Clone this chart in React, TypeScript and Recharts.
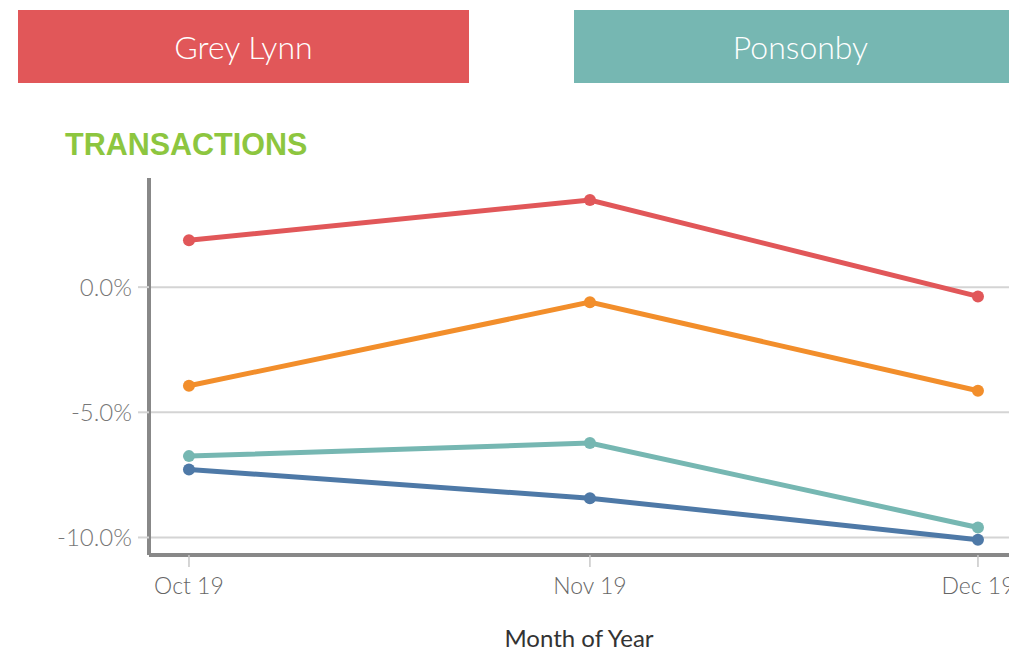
import React from 'react';
import { CartesianGrid, Line, LineChart, XAxis, YAxis, Label } from 'recharts';

// Month points (Tableau continuous date axis) and tick labels
const monthDates = ['2019-10-01', '2019-11-01', '2019-12-01'];
const monthLabels = ['Oct 19', 'Nov 19', 'Dec 19'];

// Series values, % change
const greyLynn = [1.87, 3.48, -0.37];
const benchmarkOrange = [-3.94, -0.6, -4.14];
const ponsonby = [-6.75, -6.23, -9.6];
const benchmarkBlue = [-7.28, -8.43, -10.09];

const yTicks = [-10, -5, 0];

const DAY = 24 * 3600 * 1000;
const toTime = (d: string) => new Date(d + 'T00:00:00Z').getTime();
const monthTimes = monthDates.map(toTime);

const data = monthTimes.map((t, i) => ({
  t,
  greyLynn: greyLynn[i],
  orange: benchmarkOrange[i],
  ponsonby: ponsonby[i],
  blue: benchmarkBlue[i],
}));

const formatMonth = (v: number) => {
  const i = monthTimes.indexOf(v);
  return i >= 0 ? monthLabels[i] : '';
};

const RED = '#E15759';
const TEAL = '#76B7B2';
const ORANGE = '#F28E2B';
const BLUE = '#4E79A7';
const FONT = 'Lato, "Open Sans", sans-serif';

const headerStyle: React.CSSProperties = {
  position: 'absolute',
  top: 10,
  height: 73,
  display: 'flex',
  alignItems: 'center',
  justifyContent: 'center',
  color: '#fff',
  fontFamily: FONT,
  fontWeight: 300,
  fontSize: 32,
};

const series = [
  { key: 'greyLynn', color: RED },
  { key: 'orange', color: ORANGE },
  { key: 'ponsonby', color: TEAL },
  { key: 'blue', color: BLUE },
];

export default function App() {
  return (
    <div
      style={{
        position: 'absolute',
        left: 0,
        top: 0,
        width: 1009,
        height: 651,
        overflow: 'hidden',
        background: '#fff',
      }}
    >
      <div style={{ ...headerStyle, left: 18, width: 451, background: RED }}>Grey Lynn</div>
      <div style={{ ...headerStyle, left: 574, width: 453, background: TEAL }}>Ponsonby</div>
      <div
        style={{
          position: 'absolute',
          left: 65,
          top: 126,
          color: '#8DC63F',
          fontFamily: '"Liberation Sans", Arial, sans-serif',
          fontWeight: 700,
          fontSize: 30.5,
          lineHeight: '36px',
        }}
      >
        TRANSACTIONS
      </div>
      <div style={{ position: 'absolute', left: 0, top: 0 }}>
        <LineChart
          width={1009}
          height={651}
          data={data}
          margin={{ top: 178, right: 0, bottom: 0, left: 0 }}
        >
          <CartesianGrid
            vertical={false}
            stroke="#d4d4d4"
            strokeWidth={2}
            syncWithTicks
          />
          <XAxis
            dataKey="t"
            type="number"
            scale="linear"
            domain={[monthTimes[0] - 3.09 * DAY, monthTimes[2] + 2.4 * DAY]}
            ticks={monthTimes}
            tickFormatter={formatMonth}
            height={96}
            axisLine={{ stroke: '#888', strokeWidth: 4 }}
            tickLine={{ stroke: '#c8c8c8', strokeWidth: 1.5 }}
            tickSize={12}
            tickMargin={11}
            tick={{ fill: '#666', fontSize: 23, fontWeight: 300, fontFamily: FONT }}
            interval={0}
            allowDataOverflow
          >
            <Label
              value="Month of Year"
              position="insideBottom"
              offset={4}
              style={{ fill: '#333', fontSize: 24, fontFamily: FONT }}
            />
          </XAxis>
          <YAxis
            type="number"
            domain={[-10.7, 4.36]}
            ticks={yTicks}
            width={149}
            allowDataOverflow
            tickFormatter={(v: number) => `${v.toFixed(1)}%`}
            axisLine={{ stroke: '#888', strokeWidth: 4 }}
            tickLine={{ stroke: '#d4d4d4', strokeWidth: 2 }}
            tickSize={11}
            tickMargin={6}
            tick={{ fill: '#777', fontSize: 24, fontWeight: 300, fontFamily: FONT }}
          />
          {series.map((s) => (
            <Line
              key={s.key}
              dataKey={s.key}
              stroke={s.color}
              strokeWidth={5}
              dot={{ r: 6, fill: s.color, stroke: s.color, strokeWidth: 0 }}
              activeDot={false}
              isAnimationActive={false}
              type="linear"
            />
          ))}
        </LineChart>
      </div>
    </div>
  );
}
